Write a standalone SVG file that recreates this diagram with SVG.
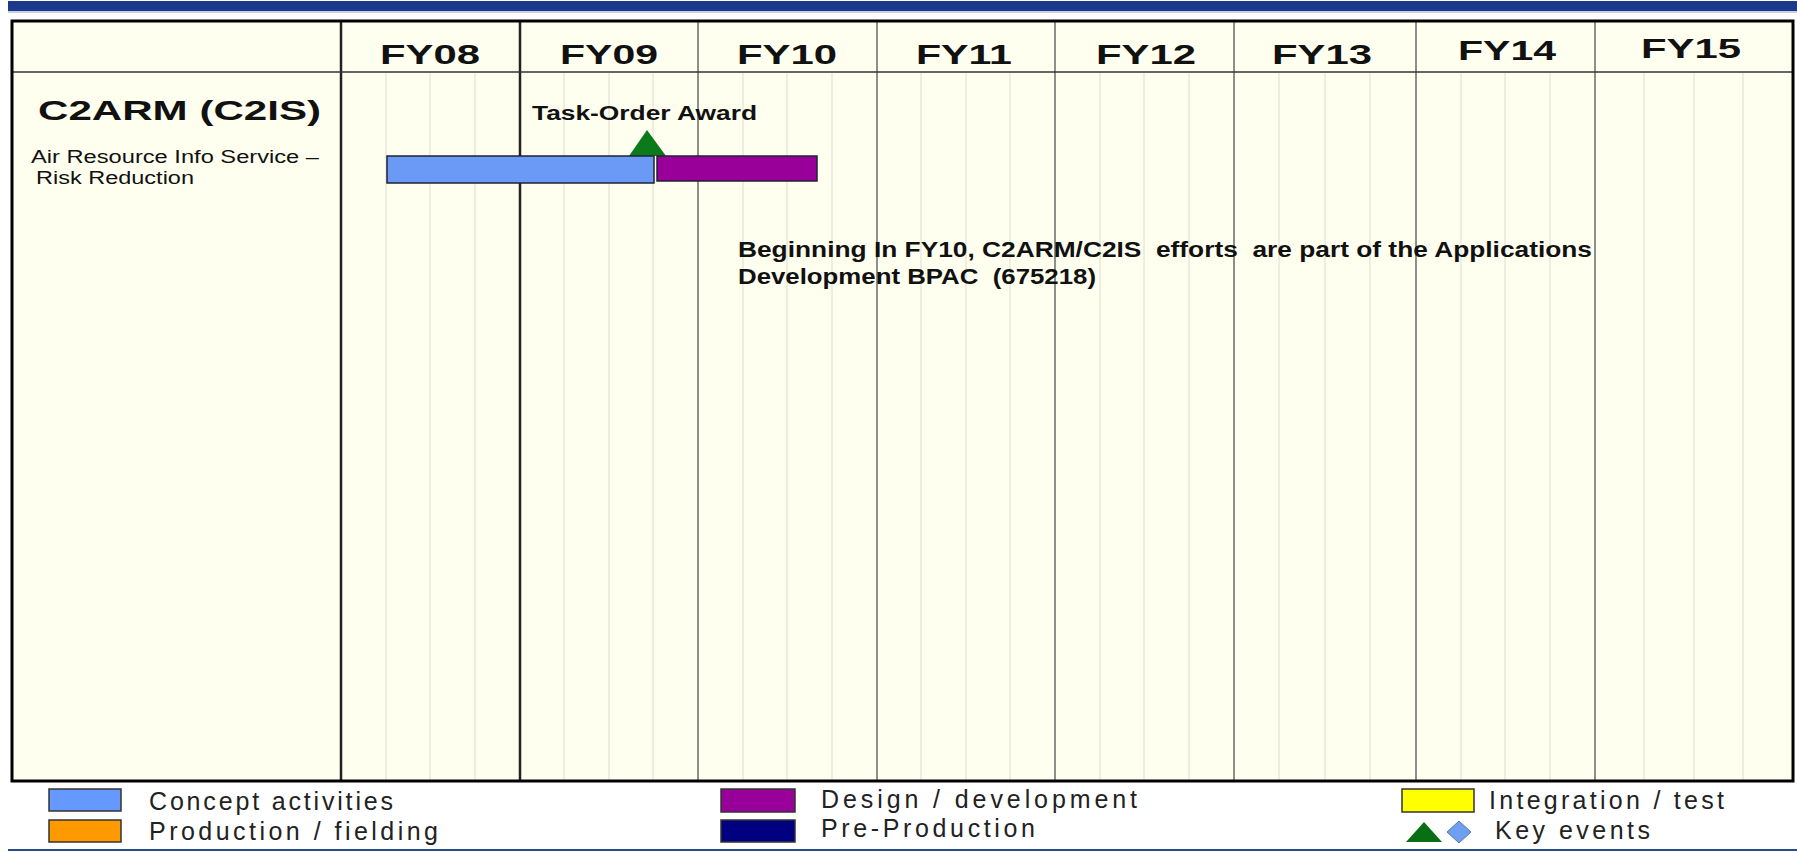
<svg xmlns="http://www.w3.org/2000/svg" width="1797" height="852" viewBox="0 0 1797 852">
<style>
.fy{font-family:"Liberation Sans",Arial,sans-serif;font-weight:bold;font-size:28px;fill:#111}
.lbl{font-family:"Liberation Sans",Arial,sans-serif;font-size:18px;fill:#111}
.bold{font-family:"Liberation Sans",Arial,sans-serif;font-weight:bold;fill:#111}
.leg{font-family:"Liberation Sans",Arial,sans-serif;font-size:25px;fill:#222}
.minor{stroke:#dcdcd0;stroke-width:1;fill:none}
.major{stroke:#555;stroke-width:1.3;fill:none}
.heavy{stroke:#222;stroke-width:2.5;fill:none}
.box{stroke:#333;stroke-width:1.5}
</style>
<rect x="0" y="0" width="1797" height="852" fill="#ffffff"/>
<g id="frame">
<rect x="8" y="1" width="1789" height="10" fill="#1b3a8c"/>
<rect x="8" y="11" width="1789" height="2" fill="#c8d0e4"/>
<rect x="8" y="849" width="1789" height="2" fill="#2a4a8a"/>
<rect x="12" y="21" width="1781" height="760" fill="#fffff0" stroke="none"/>
<path class="minor" d="M386 73V780M430 73V780M475 73V780M564 73V780M609 73V780M653 73V780M743 73V780M787 73V780M832 73V780M921 73V780M966 73V780M1010 73V780M1100 73V780M1144 73V780M1189 73V780M1279 73V780M1325 73V780M1370 73V780M1461 73V780M1505 73V780M1550 73V780M1644 73V780M1694 73V780M1743 73V780"/>
<path class="major" d="M698 21V781M877 21V781M1055 21V781M1234 21V781M1416 21V781M1595 21V781"/>
<path class="heavy" d="M341 21V781M520 21V781"/>
<path stroke="#333" stroke-width="1.5" d="M12 72H1793"/>
<rect x="12" y="21" width="1781" height="760" fill="none" stroke="#000" stroke-width="3"/>
</g>
<g id="header">
<text class="fy" x="430" y="64" text-anchor="middle" textLength="100" lengthAdjust="spacingAndGlyphs">FY08</text>
<text class="fy" x="609" y="64" text-anchor="middle" textLength="98" lengthAdjust="spacingAndGlyphs">FY09</text>
<text class="fy" x="787" y="64" text-anchor="middle" textLength="100" lengthAdjust="spacingAndGlyphs">FY10</text>
<text class="fy" x="964" y="64" text-anchor="middle" textLength="96" lengthAdjust="spacingAndGlyphs">FY11</text>
<text class="fy" x="1146" y="64" text-anchor="middle" textLength="100" lengthAdjust="spacingAndGlyphs">FY12</text>
<text class="fy" x="1322" y="64" text-anchor="middle" textLength="100" lengthAdjust="spacingAndGlyphs">FY13</text>
<text class="fy" x="1507" y="60" text-anchor="middle" textLength="98" lengthAdjust="spacingAndGlyphs">FY14</text>
<text class="fy" x="1691" y="58" text-anchor="middle" textLength="100" lengthAdjust="spacingAndGlyphs">FY15</text>
</g>
<g id="row-c2arm">
<text class="bold" x="38" y="120" font-size="28" textLength="283" lengthAdjust="spacingAndGlyphs">C2ARM (C2IS)</text>
<text class="lbl" x="31" y="163" textLength="288" lengthAdjust="spacingAndGlyphs">Air Resource Info Service –</text>
<text class="lbl" x="36" y="184" textLength="158" lengthAdjust="spacingAndGlyphs">Risk Reduction</text>
</g>
<g id="milestone-task-order">
<text class="bold" x="532" y="120" font-size="20" textLength="225" lengthAdjust="spacingAndGlyphs">Task-Order Award</text>
<polygon points="647,130 629,156 666,156" fill="#0a7a1a"/>
</g>
<g id="bar-concept">
<rect x="387" y="156" width="267" height="27" fill="#6a9af5" stroke="#223" stroke-width="1.5"/>
</g>
<g id="bar-design">
<rect x="657" y="156" width="160" height="25" fill="#990099" stroke="#223" stroke-width="1.5"/>
</g>
<g id="note">
<text class="bold" x="738" y="257" font-size="22" xml:space="preserve" textLength="854" lengthAdjust="spacingAndGlyphs">Beginning In FY10, C2ARM/C2IS  efforts  are part of the Applications</text>
<text class="bold" x="738" y="284" font-size="22" xml:space="preserve" textLength="358" lengthAdjust="spacingAndGlyphs">Development BPAC  (675218)</text>
</g>
<g id="connectors"></g>
<g id="legend">
<g id="legend-concept">
<rect class="box" x="49" y="789" width="72" height="22" fill="#6699ff"/>
<text class="leg" x="149" y="810" textLength="244" lengthAdjust="spacing">Concept activities</text>
</g>
<g id="legend-production">
<rect class="box" x="49" y="820" width="72" height="22" fill="#ff9900"/>
<text class="leg" x="149" y="840" textLength="289" lengthAdjust="spacing">Production / fielding</text>
</g>
<g id="legend-design">
<rect class="box" x="721" y="789" width="74" height="23" fill="#990099"/>
<text class="leg" x="821" y="808" textLength="316" lengthAdjust="spacing">Design / development</text>
</g>
<g id="legend-preproduction">
<rect class="box" x="721" y="820" width="74" height="22" fill="#000080"/>
<text class="leg" x="821" y="837" textLength="214" lengthAdjust="spacing">Pre-Production</text>
</g>
<g id="legend-integration">
<rect class="box" x="1402" y="789" width="72" height="23" fill="#ffff00"/>
<text class="leg" x="1489" y="809" textLength="235" lengthAdjust="spacing">Integration / test</text>
</g>
<g id="legend-key-events">
<polygon points="1424,822 1406,842 1442,842" fill="#0a6e14"/>
<polygon points="1459,821 1471,832 1459,843 1447,832" fill="#6f9ff0" stroke="#5577aa" stroke-width="1"/>
<text class="leg" x="1495" y="839" textLength="155" lengthAdjust="spacing">Key events</text>
</g>
</g>
</svg>
